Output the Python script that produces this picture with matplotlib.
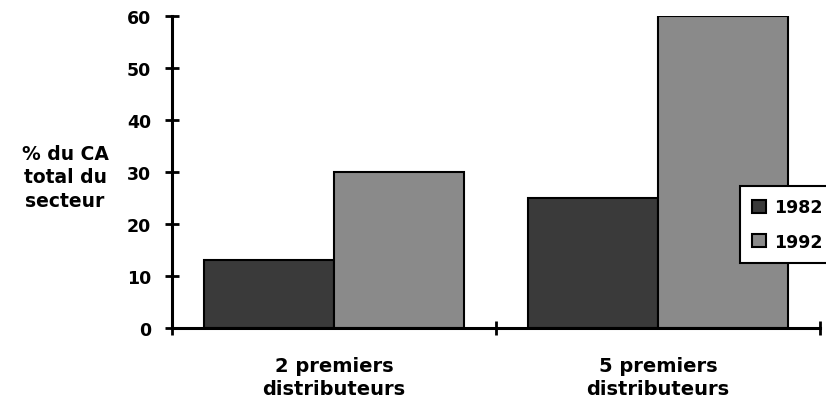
import numpy as np
import matplotlib
matplotlib.use('Agg')
import matplotlib.pyplot as plt

# Données
categories = ['2 premiers\ndistributeurs', '5 premiers\ndistributeurs']
annees = ['1982', '1992']
part_1982 = [13, 25]
part_1992 = [30, 60]
couleurs = ['#3a3a3a', '#8a8a8a']

plt.rcParams['font.family'] = ['DejaVu Sans']
plt.rcParams['font.weight'] = 'bold'

fig = plt.figure(figsize=(8.26, 4.02), dpi=100)
ax = fig.add_axes([0.2082, 0.1816, 0.7845, 0.7761])

x = np.arange(len(categories)) + 0.5
largeur = 0.4
ax.bar(x - largeur / 2, part_1982, largeur, color=couleurs[0], edgecolor='black',
       linewidth=1.5, label=annees[0])
ax.bar(x + largeur / 2, part_1992, largeur, color=couleurs[1], edgecolor='black',
       linewidth=1.5, label=annees[1])

ax.set_xlim(0, 2)
ax.set_ylim(0, 60)
ax.set_yticks(range(0, 61, 10))
ax.set_xticks([0, 1, 2])
ax.set_xticklabels([])
ax.set_xticks(x, minor=True)
ax.set_xticklabels(categories, minor=True, fontsize=14, fontweight='bold',
                   linespacing=1.25)
ax.tick_params(axis='x', which='minor', length=0, pad=20)
ax.tick_params(axis='x', which='major', direction='inout', length=10, width=2)
ax.tick_params(axis='y', direction='inout', length=10, width=2, labelsize=12.5, pad=10)

for s in ['top', 'right']:
    ax.spines[s].set_visible(False)
for s in ['left', 'bottom']:
    ax.spines[s].set_linewidth(2.2)

ax.set_ylabel('% du CA\ntotal du\nsecteur', rotation=0, fontsize=13.5, fontweight='bold',
              ha='center', va='center', linespacing=1.3)
ax.yaxis.set_label_coords(-0.165, 0.484)

leg = ax.legend(loc='upper left', bbox_to_anchor=(0.8765, 0.455), borderaxespad=0,
                fontsize=12.5, frameon=True, fancybox=False, edgecolor='black',
                framealpha=1, handlelength=0.8, handleheight=0.8, handletextpad=0.45,
                labelspacing=0.95, borderpad=0.7)
leg.get_frame().set_linewidth(1.5)

fig.savefig('out.png', dpi=100)
